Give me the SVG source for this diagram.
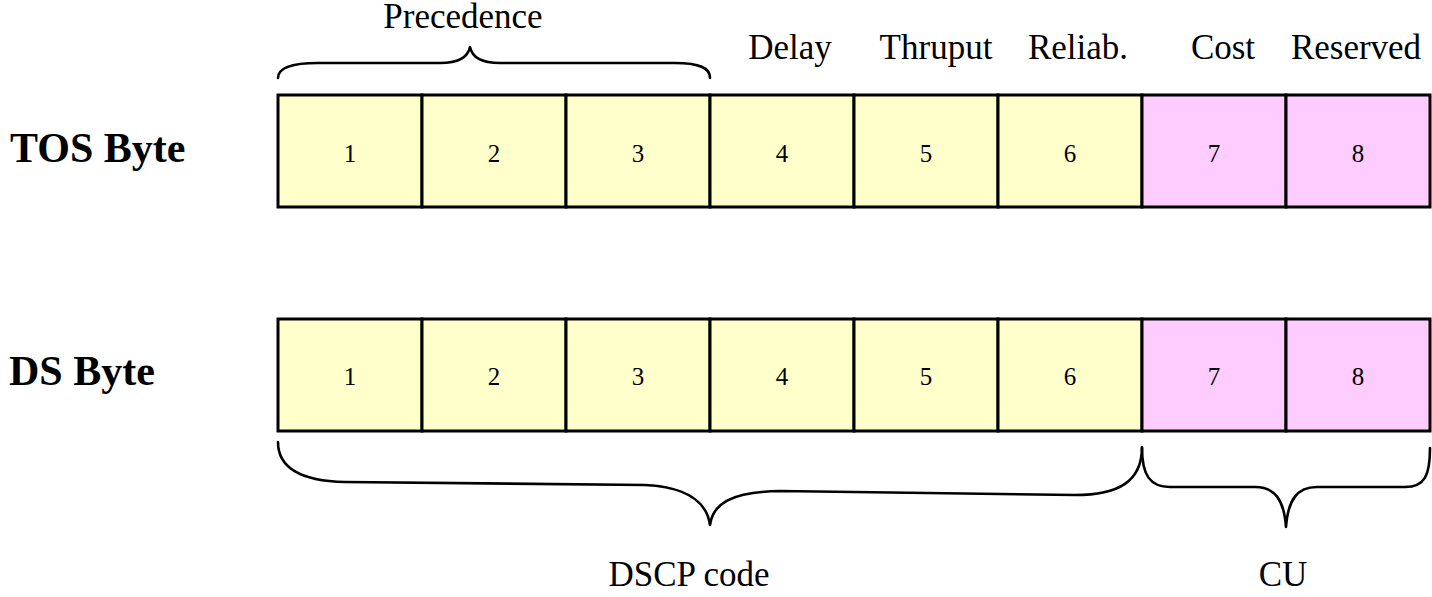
<svg xmlns="http://www.w3.org/2000/svg" width="1432" height="597" viewBox="0 0 1432 597">
  <style>
    .cell { stroke: #000; stroke-width: 3; }
    .y { fill: #FFFFCC; }
    .p { fill: #FFCCFF; }
    .num { font-family: "Liberation Serif", "Times New Roman", serif; font-size: 25px; text-anchor: middle; fill: #000; }
    .lbl { font-family: "Liberation Serif", "Times New Roman", serif; font-size: 35px; text-anchor: middle; fill: #000; }
    .row { font-family: "Liberation Serif", "Times New Roman", serif; font-size: 42px; font-weight: bold; fill: #000; }
    .brace { fill: none; stroke: #000; stroke-width: 2.6; stroke-linejoin: round; stroke-linecap: round; }
  </style>
  <rect width="1432" height="597" fill="#fff"/>

  <!-- row titles -->
  <text class="row" x="10" y="162">TOS Byte</text>
  <text class="row" x="9" y="385">DS Byte</text>

  <!-- field labels above the TOS byte -->
  <g id="field-labels">
    <text class="lbl" x="463" y="28">Precedence</text>
    <text class="lbl" x="790" y="59">Delay</text>
    <text class="lbl" x="936" y="59">Thruput</text>
    <text class="lbl" x="1078" y="59">Reliab.</text>
    <text class="lbl" x="1223" y="59">Cost</text>
    <text class="lbl" x="1356" y="59">Reserved</text>
  </g>

  <!-- TOS byte: eight bit cells -->
  <g id="tos-byte">
    <g id="tos-bit1"><rect class="cell y" x="278" y="95" width="144" height="112"/><text class="num" x="350" y="162">1</text></g>
    <g id="tos-bit2"><rect class="cell y" x="422" y="95" width="144" height="112"/><text class="num" x="494" y="162">2</text></g>
    <g id="tos-bit3"><rect class="cell y" x="566" y="95" width="144" height="112"/><text class="num" x="638" y="162">3</text></g>
    <g id="tos-bit4"><rect class="cell y" x="710" y="95" width="144" height="112"/><text class="num" x="782" y="162">4</text></g>
    <g id="tos-bit5"><rect class="cell y" x="854" y="95" width="144" height="112"/><text class="num" x="926" y="162">5</text></g>
    <g id="tos-bit6"><rect class="cell y" x="998" y="95" width="144" height="112"/><text class="num" x="1070" y="162">6</text></g>
    <g id="tos-bit7"><rect class="cell p" x="1142" y="95" width="144" height="112"/><text class="num" x="1214" y="162">7</text></g>
    <g id="tos-bit8"><rect class="cell p" x="1286" y="95" width="144" height="112"/><text class="num" x="1358" y="162">8</text></g>
  </g>

  <!-- DS byte: eight bit cells -->
  <g id="ds-byte">
    <g id="ds-bit1"><rect class="cell y" x="278" y="319" width="144" height="112"/><text class="num" x="350" y="385">1</text></g>
    <g id="ds-bit2"><rect class="cell y" x="422" y="319" width="144" height="112"/><text class="num" x="494" y="385">2</text></g>
    <g id="ds-bit3"><rect class="cell y" x="566" y="319" width="144" height="112"/><text class="num" x="638" y="385">3</text></g>
    <g id="ds-bit4"><rect class="cell y" x="710" y="319" width="144" height="112"/><text class="num" x="782" y="385">4</text></g>
    <g id="ds-bit5"><rect class="cell y" x="854" y="319" width="144" height="112"/><text class="num" x="926" y="385">5</text></g>
    <g id="ds-bit6"><rect class="cell y" x="998" y="319" width="144" height="112"/><text class="num" x="1070" y="385">6</text></g>
    <g id="ds-bit7"><rect class="cell p" x="1142" y="319" width="144" height="112"/><text class="num" x="1214" y="385">7</text></g>
    <g id="ds-bit8"><rect class="cell p" x="1286" y="319" width="144" height="112"/><text class="num" x="1358" y="385">8</text></g>
  </g>

  <!-- curly braces grouping bits -->
  <g id="braces">
    <path class="brace" d="M278,78 C278,68 290,63 318,63 L440,63 C458,63 468,57 470,47 C472,57 482,63 500,63 L675,63 C700,63 710,68 710,78"/>
    <path class="brace" d="M278,442 C278,468 300,481 345,482 L645,485 C688,487 707,503 710,525 C713,503 732,492 780,491 L1075,495 C1118,495 1142,482 1142,447"/>
    <path class="brace" d="M1142,448 C1142,475 1150,487 1170,487 L1255,487 C1275,487 1284,500 1286,527 C1288,500 1297,487 1317,487 L1405,487 C1425,487 1430,475 1430,448"/>
  </g>

  <!-- brace captions -->
  <text class="lbl" x="689" y="586">DSCP code</text>
  <text class="lbl" x="1283" y="586">CU</text>
</svg>
